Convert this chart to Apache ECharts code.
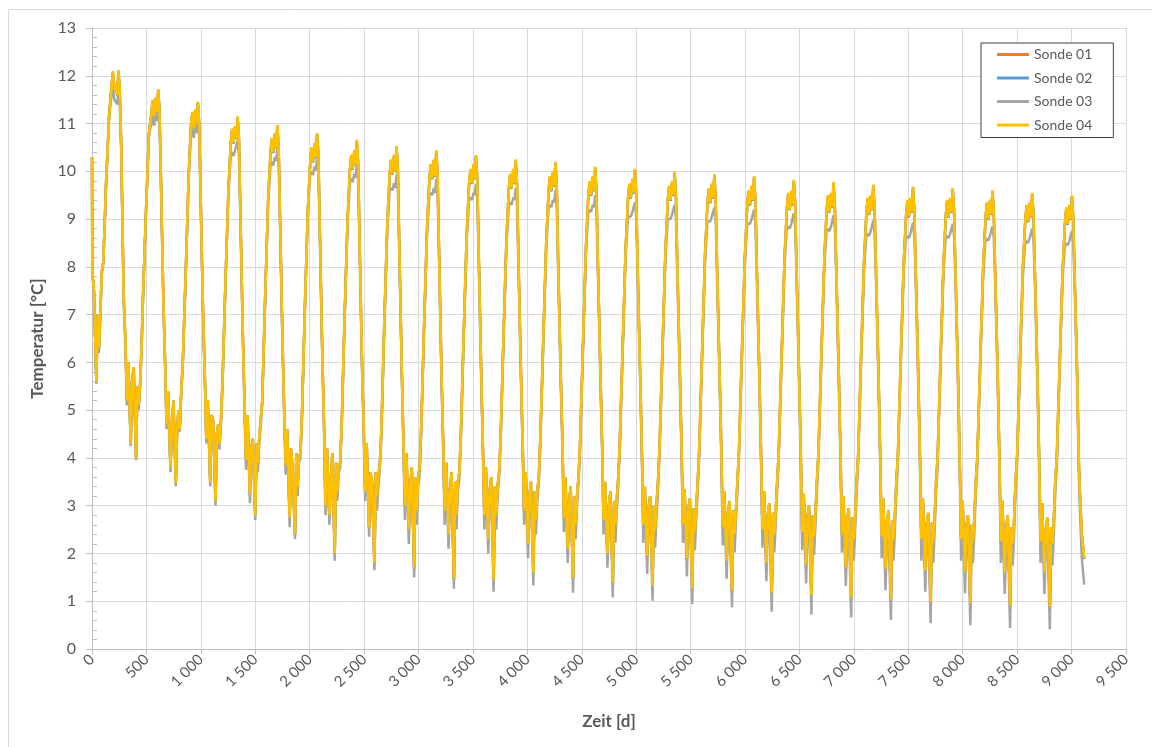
<!DOCTYPE html>
<html>
<head>
<meta charset="utf-8">
<script src="https://cdn.jsdelivr.net/npm/echarts@6/dist/echarts.min.js"></script>
<style>
  html, body { margin: 0; padding: 0; background: #fff; }
  #chart { width: 1152px; height: 747px; }
</style>
</head>
<body>
<div id="chart"></div>
<script>
const seriesNames = ['Sonde 01', 'Sonde 02', 'Sonde 03', 'Sonde 04'];
const seriesColors = ['#ED7D31', '#5B9BD5', '#A5A5A5', '#FFC000'];
const yearCount = 25;
const daysPerYear = 365;
const sampleDaysInYear = [3, 18, 40, 52, 64, 76, 90, 104, 130, 158, 180, 192, 205, 220, 232, 243, 255, 268, 291, 308, 320, 334, 356];
const xTicks = [0, 500, 1000, 1500, 2000, 2500, 3000, 3500, 4000, 4500, 5000, 5500, 6000, 6500, 7000, 7500, 8000, 8500, 9000, 9500];
const yTicks = [0, 1, 2, 3, 4, 5, 6, 7, 8, 9, 10, 11, 12, 13];

// first value = day 0, then one row of 23 samples per year
const sonde04 = [10.3,
  7.9, 7.5, 5.6, 7.0, 6.3, 7.0, 7.9, 8.1, 9.8, 11.2, 11.8, 12.1, 11.7, 11.85, 11.6, 12.12, 11.7, 10.6, 7.4, 6.4, 5.2, 6.0, 4.3,
  5.6, 5.9, 4.0, 5.5, 5.1, 5.5, 6.3, 7.4, 9.1, 10.8, 11.2, 11.5, 11.15, 11.55, 11.25, 11.72, 11.3, 9.9, 7.3, 5.9, 4.7, 5.4, 3.8,
  4.6, 5.2, 3.48, 4.6, 5.0, 4.6, 5.4, 6.0, 7.8, 9.9, 11.0, 11.25, 10.9, 11.3, 11.0, 11.46, 11.0, 9.5, 7.0, 5.6, 4.4, 5.2, 3.5,
  4.9, 4.8, 3.1, 4.5, 4.7, 4.3, 4.8, 5.6, 7.6, 9.6, 10.6, 10.9, 10.6, 10.95, 10.7, 11.15, 10.7, 9.2, 6.6, 5.0, 3.95, 4.9, 3.25,
  4.2, 4.4, 2.8, 4.3, 3.9, 4.4, 4.4, 5.2, 7.3, 9.4, 10.4, 10.7, 10.4, 10.8, 10.5, 10.97, 10.5, 9.0, 6.4, 4.8, 3.85, 4.6, 2.75,
  4.2, 3.8, 2.42, 4.1, 3.4, 4.0, 4.1, 4.9, 7.1, 9.2, 10.2, 10.5, 10.2, 10.6, 10.3, 10.8, 10.35, 8.8, 6.2, 4.6, 3.0, 4.2, 2.8,
  3.5, 4.1, 2.0, 3.9, 3.3, 3.8, 3.9, 4.7, 6.9, 9.0, 10.05, 10.35, 10.05, 10.45, 10.15, 10.66, 10.2, 8.6, 6.0, 4.5, 3.3, 4.3, 2.55,
  3.7, 3.5, 1.8, 3.7, 3.2, 3.6, 3.9, 4.6, 6.8, 8.9, 9.95, 10.25, 9.95, 10.35, 10.0, 10.53, 10.05, 8.5, 5.9, 4.2, 3.0, 4.1, 2.5,
  3.4, 3.8, 1.7, 3.6, 2.9, 3.6, 3.8, 4.6, 6.7, 8.8, 9.85, 10.15, 9.85, 10.25, 9.9, 10.44, 9.95, 8.4, 5.8, 4.2, 2.9, 3.9, 2.4,
  3.3, 3.7, 1.48, 3.5, 2.8, 3.5, 3.7, 4.5, 6.6, 8.7, 9.75, 10.05, 9.75, 10.15, 9.85, 10.34, 9.85, 8.3, 5.8, 4.1, 2.8, 3.8, 2.3,
  3.3, 3.6, 1.45, 3.4, 2.8, 3.4, 3.7, 4.4, 6.5, 8.6, 9.65, 9.95, 9.65, 10.05, 9.75, 10.25, 9.75, 8.2, 5.8, 4.2, 2.9, 3.7, 2.2,
  3.2, 3.5, 1.6, 3.3, 2.7, 3.3, 3.6, 4.4, 6.4, 8.5, 9.6, 9.9, 9.6, 10.0, 9.7, 10.2, 9.7, 8.1, 5.8, 4.3, 2.75, 3.6, 2.1,
  3.1, 3.4, 1.48, 3.2, 2.6, 3.2, 3.6, 4.3, 6.3, 8.4, 9.5, 9.8, 9.5, 9.9, 9.6, 10.1, 9.6, 8.1, 5.8, 4.2, 2.7, 3.5, 2.0,
  3.0, 3.3, 1.38, 3.1, 2.6, 3.1, 3.6, 4.3, 6.3, 8.4, 9.45, 9.75, 9.45, 9.85, 9.55, 10.05, 9.55, 8.0, 5.8, 4.1, 2.6, 3.4, 1.95,
  2.95, 3.2, 1.33, 3.0, 2.5, 3.0, 3.5, 4.2, 6.2, 8.3, 9.4, 9.7, 9.4, 9.8, 9.5, 10.0, 9.5, 8.0, 5.8, 4.1, 2.6, 3.35, 1.9,
  2.9, 3.15, 1.28, 2.95, 2.45, 2.95, 3.5, 4.2, 6.2, 8.3, 9.35, 9.65, 9.35, 9.75, 9.45, 9.94, 9.45, 8.0, 5.8, 4.1, 2.55, 3.3, 1.85,
  2.85, 3.1, 1.23, 2.9, 2.4, 2.9, 3.5, 4.15, 6.15, 8.2, 9.3, 9.6, 9.3, 9.7, 9.4, 9.9, 9.4, 8.0, 5.8, 4.0, 2.5, 3.3, 1.8,
  2.8, 3.05, 1.18, 2.85, 2.4, 2.85, 3.5, 4.1, 6.1, 8.2, 9.25, 9.55, 9.2, 9.6, 9.3, 9.82, 9.35, 8.0, 5.8, 4.0, 2.45, 3.25, 1.75,
  2.75, 3.0, 1.13, 2.8, 2.35, 2.8, 3.5, 4.1, 6.1, 8.15, 9.2, 9.5, 9.15, 9.55, 9.25, 9.78, 9.3, 8.0, 5.8, 4.0, 2.4, 3.2, 1.7,
  2.7, 2.95, 1.08, 2.75, 2.3, 2.75, 3.5, 4.05, 6.05, 8.1, 9.15, 9.45, 9.1, 9.5, 9.2, 9.72, 9.25, 7.95, 5.8, 3.95, 2.35, 3.15, 1.68,
  2.65, 2.9, 1.04, 2.7, 2.3, 2.75, 3.5, 4.05, 6.05, 8.1, 9.1, 9.4, 9.05, 9.45, 9.15, 9.68, 9.2, 7.95, 5.8, 3.95, 2.3, 3.15, 1.65,
  2.6, 2.85, 0.99, 2.65, 2.25, 2.7, 3.5, 4.0, 6.0, 8.05, 9.1, 9.4, 9.05, 9.45, 9.15, 9.65, 9.2, 7.95, 5.8, 3.9, 2.3, 3.1, 1.62,
  2.55, 2.8, 0.96, 2.6, 2.25, 2.7, 3.5, 4.0, 6.0, 8.0, 9.05, 9.35, 9.0, 9.4, 9.1, 9.6, 9.15, 7.9, 5.8, 3.9, 2.25, 3.1, 1.6,
  2.5, 2.8, 0.91, 2.55, 2.2, 2.65, 3.5, 4.0, 6.0, 8.0, 9.0, 9.3, 8.95, 9.35, 9.05, 9.55, 9.1, 7.9, 5.8, 3.9, 2.25, 3.05, 1.6,
  2.5, 2.75, 0.89, 2.55, 2.2, 2.65, 3.5, 4.0, 5.95, 7.95, 8.95, 9.25, 8.9, 9.3, 9.0, 9.5, 9.05, 7.85, 5.8, 3.8, 3.1, 2.4, 1.9
];

const sonde03 = [10.2,
  7.85, 7.45, 5.55, 6.95, 6.2, 6.95, 7.85, 8.05, 9.75, 11.15, 11.6, 11.75, 11.5, 11.5, 11.4, 11.77, 11.4, 10.45, 7.25, 6.3, 5.1, 5.95, 4.25,
  5.55, 5.85, 3.95, 5.45, 5.0, 5.45, 6.25, 7.35, 9.05, 10.75, 11.0, 11.15, 10.95, 11.2, 11.05, 11.37, 11.0, 9.75, 7.15, 5.8, 4.6, 5.35, 3.7,
  4.55, 5.15, 3.4, 4.55, 4.9, 4.55, 5.35, 5.95, 7.75, 9.85, 10.8, 10.9, 10.7, 10.95, 10.8, 11.11, 10.7, 9.35, 6.85, 5.5, 4.3, 5.15, 3.4,
  4.78, 4.68, 3.0, 4.38, 4.5, 4.18, 4.7, 5.5, 7.5, 9.5, 10.32, 10.4, 10.32, 10.45, 10.42, 10.65, 10.32, 9.02, 6.42, 4.85, 3.75, 4.78, 3.05,
  4.08, 4.28, 2.7, 4.18, 3.7, 4.28, 4.3, 5.1, 7.2, 9.3, 10.12, 10.2, 10.12, 10.3, 10.22, 10.47, 10.12, 8.82, 6.22, 4.65, 3.65, 4.48, 2.55,
  4.08, 3.68, 2.3, 3.98, 3.2, 3.88, 4.0, 4.8, 7.0, 9.1, 9.92, 10.0, 9.92, 10.1, 10.02, 10.3, 9.97, 8.62, 6.02, 4.45, 2.8, 4.08, 2.6,
  3.38, 3.98, 1.85, 3.78, 3.1, 3.68, 3.8, 4.6, 6.8, 8.9, 9.77, 9.85, 9.77, 9.95, 9.87, 10.16, 9.82, 8.42, 5.82, 4.35, 3.1, 4.18, 2.35,
  3.5, 3.3, 1.65, 3.5, 2.9, 3.4, 3.75, 4.45, 6.65, 8.75, 9.6, 9.65, 9.6, 9.75, 9.65, 9.93, 9.6, 8.3, 5.7, 4.0, 2.7, 3.9, 2.2,
  3.2, 3.6, 1.5, 3.4, 2.6, 3.4, 3.65, 4.45, 6.55, 8.65, 9.5, 9.55, 9.5, 9.65, 9.55, 9.84, 9.5, 8.2, 5.6, 4.0, 2.6, 3.7, 2.1,
  3.1, 3.5, 1.26, 3.3, 2.5, 3.3, 3.55, 4.35, 6.45, 8.55, 9.4, 9.45, 9.4, 9.55, 9.5, 9.74, 9.4, 8.1, 5.6, 3.9, 2.5, 3.6, 2.0,
  3.1, 3.4, 1.2, 3.2, 2.5, 3.2, 3.55, 4.25, 6.35, 8.45, 9.3, 9.35, 9.3, 9.45, 9.4, 9.65, 9.3, 8.0, 5.6, 4.0, 2.6, 3.5, 1.9,
  3.0, 3.3, 1.33, 3.1, 2.4, 3.1, 3.45, 4.25, 6.25, 8.35, 9.25, 9.3, 9.25, 9.4, 9.35, 9.6, 9.25, 7.9, 5.6, 4.1, 2.45, 3.4, 1.8,
  2.9, 3.2, 1.18, 3.0, 2.3, 3.0, 3.45, 4.15, 6.15, 8.25, 9.15, 9.2, 9.15, 9.3, 9.25, 9.5, 9.15, 7.9, 5.6, 4.0, 2.4, 3.3, 1.7,
  2.75, 3.05, 1.08, 2.85, 2.22, 2.85, 3.4, 4.12, 6.12, 8.22, 9.05, 9.05, 9.05, 9.15, 9.15, 9.35, 9.05, 7.78, 5.58, 3.85, 2.22, 3.15, 1.57,
  2.7, 2.95, 1.01, 2.75, 2.12, 2.75, 3.3, 4.02, 6.02, 8.12, 9.0, 9.0, 9.0, 9.1, 9.1, 9.3, 9.0, 7.78, 5.58, 3.85, 2.22, 3.1, 1.52,
  2.65, 2.9, 0.94, 2.7, 2.07, 2.7, 3.3, 4.02, 6.02, 8.12, 8.95, 8.95, 8.95, 9.05, 9.05, 9.24, 8.95, 7.78, 5.58, 3.85, 2.17, 3.05, 1.47,
  2.6, 2.85, 0.87, 2.65, 2.02, 2.65, 3.3, 3.97, 5.97, 8.02, 8.9, 8.9, 8.9, 9.0, 9.0, 9.2, 8.9, 7.78, 5.58, 3.75, 2.12, 3.05, 1.42,
  2.55, 2.8, 0.78, 2.6, 2.02, 2.6, 3.3, 3.92, 5.92, 8.02, 8.85, 8.85, 8.8, 8.9, 8.9, 9.12, 8.85, 7.78, 5.58, 3.75, 2.07, 3.0, 1.37,
  2.5, 2.75, 0.72, 2.55, 1.97, 2.55, 3.3, 3.92, 5.92, 7.97, 8.8, 8.8, 8.75, 8.85, 8.85, 9.08, 8.8, 7.78, 5.58, 3.75, 2.02, 2.95, 1.32,
  2.4, 2.65, 0.66, 2.45, 1.85, 2.45, 3.25, 3.85, 5.85, 7.9, 8.7, 8.7, 8.65, 8.75, 8.75, 8.97, 8.7, 7.7, 5.55, 3.65, 1.9, 2.85, 1.23,
  2.35, 2.6, 0.61, 2.4, 1.85, 2.45, 3.25, 3.85, 5.85, 7.9, 8.65, 8.65, 8.6, 8.7, 8.7, 8.93, 8.65, 7.7, 5.55, 3.65, 1.85, 2.85, 1.2,
  2.3, 2.55, 0.54, 2.35, 1.8, 2.4, 3.25, 3.8, 5.8, 7.85, 8.65, 8.65, 8.6, 8.7, 8.7, 8.9, 8.65, 7.7, 5.55, 3.6, 1.85, 2.8, 1.17,
  2.25, 2.5, 0.5, 2.3, 1.8, 2.4, 3.25, 3.8, 5.8, 7.8, 8.6, 8.6, 8.55, 8.65, 8.65, 8.85, 8.6, 7.65, 5.55, 3.6, 1.8, 2.8, 1.15,
  2.2, 2.5, 0.44, 2.25, 1.75, 2.35, 3.25, 3.8, 5.8, 7.8, 8.55, 8.55, 8.5, 8.6, 8.6, 8.8, 8.55, 7.65, 5.55, 3.6, 1.8, 2.75, 1.15,
  2.2, 2.45, 0.41, 2.25, 1.75, 2.35, 3.25, 3.8, 5.75, 7.75, 8.5, 8.5, 8.45, 8.55, 8.55, 8.75, 8.5, 7.6, 5.55, 3.5, 2.7, 1.9, 1.35
];

const sonde02 = [10.3,
  7.9, 7.5, 5.6, 7.0, 6.3, 7.0, 7.9, 8.1, 9.8, 11.2, 11.78, 12.07, 11.68, 11.83, 11.58, 12.08, 11.68, 10.6, 7.4, 6.4, 5.2, 6.0, 4.3,
  5.6, 5.9, 4.0, 5.5, 5.1, 5.5, 6.3, 7.4, 9.1, 10.8, 11.18, 11.47, 11.13, 11.52, 11.23, 11.69, 11.28, 9.9, 7.3, 5.9, 4.7, 5.4, 3.8,
  4.6, 5.2, 3.47, 4.6, 5.0, 4.6, 5.4, 6.0, 7.8, 9.9, 10.98, 11.22, 10.88, 11.27, 10.98, 11.43, 10.98, 9.5, 7.0, 5.6, 4.4, 5.2, 3.5,
  4.9, 4.8, 3.08, 4.5, 4.7, 4.3, 4.8, 5.6, 7.6, 9.6, 10.58, 10.87, 10.58, 10.92, 10.68, 11.12, 10.68, 9.2, 6.6, 5.0, 3.93, 4.9, 3.23,
  4.2, 4.4, 2.78, 4.3, 3.88, 4.4, 4.4, 5.2, 7.3, 9.4, 10.38, 10.67, 10.38, 10.77, 10.48, 10.94, 10.48, 9.0, 6.4, 4.8, 3.83, 4.6, 2.73,
  4.2, 3.8, 2.4, 4.1, 3.38, 4.0, 4.1, 4.9, 7.1, 9.2, 10.18, 10.47, 10.18, 10.57, 10.28, 10.77, 10.33, 8.8, 6.2, 4.6, 2.98, 4.2, 2.78,
  3.5, 4.1, 1.98, 3.9, 3.28, 3.8, 3.9, 4.7, 6.9, 9.0, 10.03, 10.32, 10.03, 10.42, 10.13, 10.63, 10.18, 8.6, 6.0, 4.5, 3.28, 4.3, 2.53,
  3.7, 3.5, 1.78, 3.7, 3.18, 3.6, 3.9, 4.6, 6.8, 8.9, 9.93, 10.22, 9.93, 10.32, 9.98, 10.5, 10.03, 8.5, 5.9, 4.2, 2.98, 4.1, 2.48,
  3.4, 3.8, 1.67, 3.6, 2.88, 3.6, 3.8, 4.6, 6.7, 8.8, 9.83, 10.12, 9.83, 10.22, 9.88, 10.41, 9.93, 8.4, 5.8, 4.2, 2.88, 3.9, 2.38,
  3.3, 3.7, 1.45, 3.5, 2.78, 3.5, 3.7, 4.5, 6.6, 8.7, 9.73, 10.02, 9.73, 10.12, 9.83, 10.31, 9.83, 8.3, 5.8, 4.1, 2.78, 3.8, 2.28,
  3.3, 3.6, 1.42, 3.4, 2.78, 3.4, 3.7, 4.4, 6.5, 8.6, 9.63, 9.92, 9.63, 10.02, 9.73, 10.22, 9.73, 8.2, 5.8, 4.2, 2.88, 3.7, 2.18,
  3.2, 3.5, 1.57, 3.3, 2.68, 3.3, 3.6, 4.4, 6.4, 8.5, 9.58, 9.87, 9.58, 9.97, 9.68, 10.17, 9.68, 8.1, 5.8, 4.3, 2.73, 3.6, 2.08,
  3.1, 3.4, 1.45, 3.2, 2.58, 3.2, 3.6, 4.3, 6.3, 8.4, 9.48, 9.77, 9.48, 9.87, 9.58, 10.07, 9.58, 8.1, 5.8, 4.2, 2.68, 3.5, 1.98,
  3.0, 3.3, 1.35, 3.1, 2.58, 3.1, 3.6, 4.3, 6.3, 8.4, 9.43, 9.72, 9.43, 9.82, 9.53, 10.02, 9.53, 8.0, 5.8, 4.1, 2.58, 3.4, 1.93,
  2.95, 3.2, 1.3, 3.0, 2.48, 3.0, 3.5, 4.2, 6.2, 8.3, 9.38, 9.67, 9.38, 9.77, 9.48, 9.97, 9.48, 8.0, 5.8, 4.1, 2.58, 3.35, 1.88,
  2.9, 3.15, 1.25, 2.95, 2.43, 2.95, 3.5, 4.2, 6.2, 8.3, 9.33, 9.62, 9.33, 9.72, 9.43, 9.91, 9.43, 8.0, 5.8, 4.1, 2.53, 3.3, 1.83,
  2.85, 3.1, 1.2, 2.9, 2.38, 2.9, 3.5, 4.15, 6.15, 8.2, 9.28, 9.57, 9.28, 9.67, 9.38, 9.87, 9.38, 8.0, 5.8, 4.0, 2.48, 3.3, 1.78,
  2.8, 3.05, 1.15, 2.85, 2.38, 2.85, 3.5, 4.1, 6.1, 8.2, 9.23, 9.52, 9.18, 9.57, 9.28, 9.79, 9.33, 8.0, 5.8, 4.0, 2.43, 3.25, 1.73,
  2.75, 3.0, 1.1, 2.8, 2.33, 2.8, 3.5, 4.1, 6.1, 8.15, 9.18, 9.47, 9.13, 9.52, 9.23, 9.75, 9.28, 8.0, 5.8, 4.0, 2.38, 3.2, 1.68,
  2.7, 2.95, 1.05, 2.75, 2.28, 2.75, 3.5, 4.05, 6.05, 8.1, 9.13, 9.42, 9.08, 9.47, 9.18, 9.69, 9.23, 7.95, 5.8, 3.95, 2.33, 3.15, 1.66,
  2.65, 2.9, 1.01, 2.7, 2.28, 2.75, 3.5, 4.05, 6.05, 8.1, 9.08, 9.37, 9.03, 9.42, 9.13, 9.65, 9.18, 7.95, 5.8, 3.95, 2.28, 3.15, 1.63,
  2.6, 2.85, 0.96, 2.65, 2.23, 2.7, 3.5, 4.0, 6.0, 8.05, 9.08, 9.37, 9.03, 9.42, 9.13, 9.62, 9.18, 7.95, 5.8, 3.9, 2.28, 3.1, 1.6,
  2.55, 2.8, 0.93, 2.6, 2.23, 2.7, 3.5, 4.0, 6.0, 8.0, 9.03, 9.32, 8.98, 9.37, 9.08, 9.57, 9.13, 7.9, 5.8, 3.9, 2.23, 3.1, 1.58,
  2.5, 2.8, 0.88, 2.55, 2.18, 2.65, 3.5, 4.0, 6.0, 8.0, 8.98, 9.27, 8.93, 9.32, 9.03, 9.52, 9.08, 7.9, 5.8, 3.9, 2.23, 3.05, 1.58,
  2.5, 2.75, 0.86, 2.55, 2.18, 2.65, 3.5, 4.0, 5.95, 7.95, 8.93, 9.22, 8.88, 9.27, 8.98, 9.47, 9.03, 7.85, 5.8, 3.8, 3.08, 2.38, 1.88
];

const sonde01 = [10.3,
  7.9, 7.5, 5.6, 7.0, 6.3, 7.0, 7.9, 8.1, 9.8, 11.2, 11.79, 12.08, 11.69, 11.84, 11.59, 12.1, 11.69, 10.6, 7.4, 6.4, 5.2, 6.0, 4.3,
  5.6, 5.9, 4.0, 5.5, 5.1, 5.5, 6.3, 7.4, 9.1, 10.8, 11.19, 11.48, 11.14, 11.53, 11.24, 11.7, 11.29, 9.9, 7.3, 5.9, 4.7, 5.4, 3.8,
  4.6, 5.2, 3.48, 4.6, 5.0, 4.6, 5.4, 6.0, 7.8, 9.9, 10.99, 11.23, 10.89, 11.28, 10.99, 11.44, 10.99, 9.5, 7.0, 5.6, 4.4, 5.2, 3.5,
  4.9, 4.8, 3.09, 4.5, 4.7, 4.3, 4.8, 5.6, 7.6, 9.6, 10.59, 10.88, 10.59, 10.93, 10.69, 11.13, 10.69, 9.2, 6.6, 5.0, 3.94, 4.9, 3.24,
  4.2, 4.4, 2.79, 4.3, 3.89, 4.4, 4.4, 5.2, 7.3, 9.4, 10.39, 10.68, 10.39, 10.78, 10.49, 10.95, 10.49, 9.0, 6.4, 4.8, 3.84, 4.6, 2.74,
  4.2, 3.8, 2.41, 4.1, 3.39, 4.0, 4.1, 4.9, 7.1, 9.2, 10.19, 10.48, 10.19, 10.58, 10.29, 10.78, 10.34, 8.8, 6.2, 4.6, 2.99, 4.2, 2.79,
  3.5, 4.1, 1.99, 3.9, 3.29, 3.8, 3.9, 4.7, 6.9, 9.0, 10.04, 10.33, 10.04, 10.43, 10.14, 10.64, 10.19, 8.6, 6.0, 4.5, 3.29, 4.3, 2.54,
  3.7, 3.5, 1.79, 3.7, 3.19, 3.6, 3.9, 4.6, 6.8, 8.9, 9.94, 10.23, 9.94, 10.33, 9.99, 10.51, 10.04, 8.5, 5.9, 4.2, 2.99, 4.1, 2.49,
  3.4, 3.8, 1.68, 3.6, 2.89, 3.6, 3.8, 4.6, 6.7, 8.8, 9.84, 10.13, 9.84, 10.23, 9.89, 10.42, 9.94, 8.4, 5.8, 4.2, 2.89, 3.9, 2.39,
  3.3, 3.7, 1.46, 3.5, 2.79, 3.5, 3.7, 4.5, 6.6, 8.7, 9.74, 10.03, 9.74, 10.13, 9.84, 10.32, 9.84, 8.3, 5.8, 4.1, 2.79, 3.8, 2.29,
  3.3, 3.6, 1.43, 3.4, 2.79, 3.4, 3.7, 4.4, 6.5, 8.6, 9.64, 9.93, 9.64, 10.03, 9.74, 10.23, 9.74, 8.2, 5.8, 4.2, 2.89, 3.7, 2.19,
  3.2, 3.5, 1.58, 3.3, 2.69, 3.3, 3.6, 4.4, 6.4, 8.5, 9.59, 9.88, 9.59, 9.98, 9.69, 10.18, 9.69, 8.1, 5.8, 4.3, 2.74, 3.6, 2.09,
  3.1, 3.4, 1.46, 3.2, 2.59, 3.2, 3.6, 4.3, 6.3, 8.4, 9.49, 9.78, 9.49, 9.88, 9.59, 10.08, 9.59, 8.1, 5.8, 4.2, 2.69, 3.5, 1.99,
  3.0, 3.3, 1.36, 3.1, 2.59, 3.1, 3.6, 4.3, 6.3, 8.4, 9.44, 9.73, 9.44, 9.83, 9.54, 10.03, 9.54, 8.0, 5.8, 4.1, 2.59, 3.4, 1.94,
  2.95, 3.2, 1.31, 3.0, 2.49, 3.0, 3.5, 4.2, 6.2, 8.3, 9.39, 9.68, 9.39, 9.78, 9.49, 9.98, 9.49, 8.0, 5.8, 4.1, 2.59, 3.35, 1.89,
  2.9, 3.15, 1.26, 2.95, 2.44, 2.95, 3.5, 4.2, 6.2, 8.3, 9.34, 9.63, 9.34, 9.73, 9.44, 9.92, 9.44, 8.0, 5.8, 4.1, 2.54, 3.3, 1.84,
  2.85, 3.1, 1.21, 2.9, 2.39, 2.9, 3.5, 4.15, 6.15, 8.2, 9.29, 9.58, 9.29, 9.68, 9.39, 9.88, 9.39, 8.0, 5.8, 4.0, 2.49, 3.3, 1.79,
  2.8, 3.05, 1.16, 2.85, 2.39, 2.85, 3.5, 4.1, 6.1, 8.2, 9.24, 9.53, 9.19, 9.58, 9.29, 9.8, 9.34, 8.0, 5.8, 4.0, 2.44, 3.25, 1.74,
  2.75, 3.0, 1.11, 2.8, 2.34, 2.8, 3.5, 4.1, 6.1, 8.15, 9.19, 9.48, 9.14, 9.53, 9.24, 9.76, 9.29, 8.0, 5.8, 4.0, 2.39, 3.2, 1.69,
  2.7, 2.95, 1.06, 2.75, 2.29, 2.75, 3.5, 4.05, 6.05, 8.1, 9.14, 9.43, 9.09, 9.48, 9.19, 9.7, 9.24, 7.95, 5.8, 3.95, 2.34, 3.15, 1.67,
  2.65, 2.9, 1.02, 2.7, 2.29, 2.75, 3.5, 4.05, 6.05, 8.1, 9.09, 9.38, 9.04, 9.43, 9.14, 9.66, 9.19, 7.95, 5.8, 3.95, 2.29, 3.15, 1.64,
  2.6, 2.85, 0.97, 2.65, 2.24, 2.7, 3.5, 4.0, 6.0, 8.05, 9.09, 9.38, 9.04, 9.43, 9.14, 9.63, 9.19, 7.95, 5.8, 3.9, 2.29, 3.1, 1.61,
  2.55, 2.8, 0.94, 2.6, 2.24, 2.7, 3.5, 4.0, 6.0, 8.0, 9.04, 9.33, 8.99, 9.38, 9.09, 9.58, 9.14, 7.9, 5.8, 3.9, 2.24, 3.1, 1.59,
  2.5, 2.8, 0.89, 2.55, 2.19, 2.65, 3.5, 4.0, 6.0, 8.0, 8.99, 9.28, 8.94, 9.33, 9.04, 9.53, 9.09, 7.9, 5.8, 3.9, 2.24, 3.05, 1.59,
  2.5, 2.75, 0.87, 2.55, 2.19, 2.65, 3.5, 4.0, 5.95, 7.95, 8.94, 9.23, 8.89, 9.28, 8.99, 9.48, 9.04, 7.85, 5.8, 3.8, 3.09, 2.39, 1.89
];

// ---- sample days (x values) ----
const days = [0];
for (let k = 0; k < yearCount; k++) {
  for (const t of sampleDaysInYear) days.push(k * daysPerYear + t);
}

const seriesValues = [sonde01, sonde02, sonde03, sonde04];

function fmtThousands(v) {
  const s = String(v);
  return s.length > 3 ? s.slice(0, s.length - 3) + ' ' + s.slice(s.length - 3) : s;
}

const FONT = 'Lato, "Open Sans", sans-serif';
const chart = echarts.init(document.getElementById('chart'), null, { renderer: 'canvas' });

const option = {
  animation: false,
  backgroundColor: '#ffffff',
  graphic: [{
    type: 'rect', silent: true, z: -10,
    shape: { x: 8.5, y: 9.5, width: 1160, height: 760 },
    style: { fill: 'none', stroke: '#d9d9d9', lineWidth: 1 }
  }],
  grid: { left: 92, right: 26, top: 28, bottom: 98, containLabel: false },
  legend: {
    orient: 'vertical',
    left: 981, top: 43,
    backgroundColor: '#ffffff',
    borderColor: '#404040', borderWidth: 1, borderRadius: 0,
    padding: [3, 21, 4, 16],
    itemWidth: 32, itemHeight: 3, itemGap: 6.5,
    icon: 'rect',
    textStyle: { color: '#595959', fontSize: 14, fontFamily: FONT, lineHeight: 17 },
    data: seriesNames
  },
  xAxis: {
    type: 'value',
    min: xTicks[0], max: xTicks[xTicks.length - 1], interval: 500,
    axisLine: { show: true, lineStyle: { color: '#bfbfbf', width: 1 } },
    axisTick: { show: true, length: 5, lineStyle: { color: '#bfbfbf' } },
    axisLabel: { rotate: 45, margin: 8, color: '#595959', fontSize: 15, fontFamily: FONT,
                 formatter: (v) => fmtThousands(v) },
    splitLine: { show: true, lineStyle: { color: '#d9d9d9', width: 1 } },
    name: 'Zeit [d]', nameLocation: 'middle', nameGap: 64,
    nameTextStyle: { color: '#595959', fontWeight: 'bold', fontSize: 17, fontFamily: FONT }
  },
  yAxis: [{
    type: 'value',
    min: yTicks[0], max: yTicks[yTicks.length - 1], interval: 1,
    axisLine: { show: true, lineStyle: { color: '#bfbfbf', width: 1 } },
    axisTick: { show: true, length: 6, lineStyle: { color: '#bfbfbf' } },
    axisLabel: { margin: 16, color: '#595959', fontSize: 16, fontFamily: FONT },
    splitLine: { show: true, lineStyle: { color: '#d9d9d9', width: 1 } },
    name: 'Temperatur [°C]', nameLocation: 'middle', nameGap: 46,
    nameTextStyle: { color: '#595959', fontWeight: 'bold', fontSize: 17, fontFamily: FONT }
  }, {
    type: 'value',
    min: yTicks[0], max: yTicks[yTicks.length - 1], interval: 1,
    position: 'left',
    axisLine: { show: false },
    axisTick: { show: false, inside: true },
    axisLabel: { show: false },
    splitLine: { show: false },
    minorTick: { show: true, splitNumber: 5, length: 5, lineStyle: { color: '#bfbfbf' } }
  }],
  series: seriesNames.map((name, i) => ({
    name: name,
    type: 'line',
    yAxisIndex: 0,
    showSymbol: false,
    symbol: 'none',
    smooth: false,
    color: seriesColors[i],
    lineStyle: { color: seriesColors[i], width: 2.5 },
    data: days.map((d, j) => [d, seriesValues[i][j]])
  }))
};

chart.setOption(option);
</script>
</body>
</html>
